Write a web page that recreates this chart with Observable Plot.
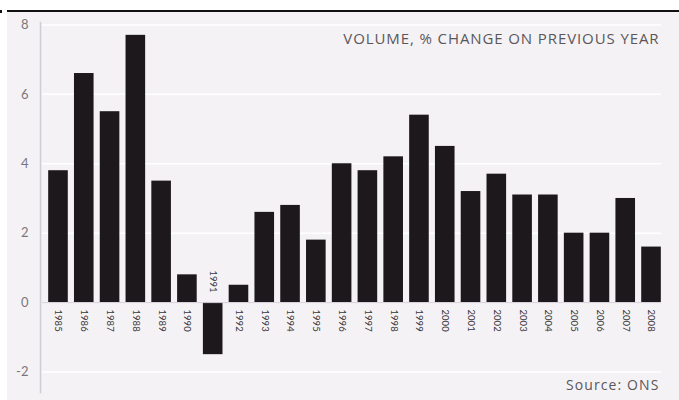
<!DOCTYPE html>
<html>
<head>
<meta charset="utf-8">
<script src="https://cdn.jsdelivr.net/npm/d3@7"></script>
<script src="https://cdn.jsdelivr.net/npm/@observablehq/plot@0.6"></script>
<style>
  html, body { margin: 0; padding: 0; background: #ffffff; }
  #wrap { position: relative; width: 679px; height: 400px; overflow: hidden; }
  #bg { position: absolute; left: 7px; top: 12px; width: 672px; height: 388px; background: #f5f2f5; }
  #topline { position: absolute; left: 7px; top: 10px; width: 672px; height: 2px; background: #111; }
  #mark { position: absolute; left: 0px; top: 10px; width: 2px; height: 3px; background: #111; }
  #chart { position: absolute; left: 0; top: 0; }
  svg { font-family: Lato, "Open Sans", sans-serif; }
</style>
</head>
<body>
<div id="wrap">
  <div id="bg"></div>
  <div id="topline"></div>
  <div id="mark"></div>
  <div id="chart"></div>
</div>
<script>
const years = ["1985","1986","1987","1988","1989","1990","1991","1992","1993","1994","1995","1996",
               "1997","1998","1999","2000","2001","2002","2003","2004","2005","2006","2007","2008"];
const volumeChange = [3.8, 6.6, 5.5, 7.7, 3.5, 0.8, -1.5, 0.5, 2.6, 2.8, 1.8, 4.0,
                      3.8, 4.2, 5.4, 4.5, 3.2, 3.7, 3.1, 3.1, 2.0, 2.0, 3.0, 1.6];
const yTicks = [-2, 0, 2, 4, 6, 8];
const titleText = ["VOLUME, % CHANGE ON PREVIOUS YEAR"];
const sourceText = ["Source: ONS"];

const data = years.map((year, i) => ({year, value: volumeChange[i]}));

const chart = Plot.plot({
  width: 679,
  height: 400,
  marginLeft: 42,
  marginRight: 12,
  marginTop: 22,
  marginBottom: 8,
  style: {background: "transparent", overflow: "visible"},
  x: {domain: years, padding: 0.24, round: false, axis: null},
  y: {domain: [-2.59, 8.07], axis: null},
  marks: [
    Plot.ruleY(yTicks.filter(d => d !== 0), {y: d => d, stroke: "#ffffff", strokeWidth: 1.5, insetRight: 6}),
    Plot.frame({anchor: "left", stroke: "#cfccd4", strokeWidth: 1.5, dx: -2}),
    Plot.text(yTicks, {x: () => years[0], y: d => d, text: d => String(d), textAnchor: "end", dx: -30, fill: "#7a777b", fontSize: 13}),
    Plot.barY(data, {x: "year", y: "value", fill: "#1c181b"}),
    Plot.ruleY([0], {stroke: "#d6d3d9", strokeWidth: 1, insetRight: 6}),
    Plot.text(data.filter(d => d.value >= 0), {x: "year", y: () => 0, text: "year", rotate: 90, textAnchor: "start", dy: 7, fill: "#3a373a", fontSize: 9.5}),
    Plot.text(data.filter(d => d.value < 0), {x: "year", y: () => 0, text: "year", rotate: 90, textAnchor: "end", dy: -10, fill: "#3a373a", fontSize: 9.5}),
    Plot.text(titleText, {frameAnchor: "top-right", text: d => d, dx: -8, dy: 11, fill: "#5a575a", fontSize: 15, fontFamily: "'Open Sans', sans-serif", textAnchor: "end"}),
    Plot.text(sourceText, {frameAnchor: "bottom-right", text: d => d, dx: -8, dy: -3, fill: "#5a575a", fontSize: 14, fontFamily: "'Open Sans', sans-serif", textAnchor: "end"})
  ]
});
// letter spacing for the wide annotation type
d3.select(chart).selectAll("text").each(function() {
  const t = this.textContent;
  if (t === titleText[0]) this.setAttribute("letter-spacing", "0.9");
  if (t === sourceText[0]) this.setAttribute("letter-spacing", "1.1");
});
document.getElementById("chart").appendChild(chart);
</script>
</body>
</html>
